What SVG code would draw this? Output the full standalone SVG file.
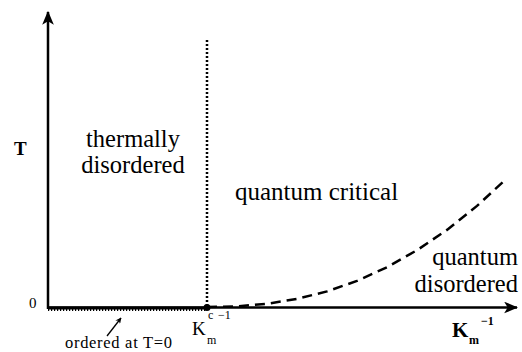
<svg xmlns="http://www.w3.org/2000/svg" width="522" height="352" viewBox="0 0 522 352">
<style>
text{font-family:'Liberation Serif','Times New Roman',Times,'Nimbus Roman','Nimbus Roman No9 L',FreeSerif,'Noto Serif','DejaVu Serif',Georgia,serif;fill:#000}
.b{font-weight:bold}
.ax{stroke:#000;stroke-width:2.5;fill:none}
</style>
<defs>
<marker id="ah" viewBox="0 0 10 10" refX="9" refY="5" markerWidth="6" markerHeight="6" markerUnits="userSpaceOnUse" orient="auto"><path d="M0,0 L10,5 L0,10 L3,5 Z" fill="#000"/></marker>
<marker id="big" viewBox="0 0 12 10" refX="11" refY="5" markerWidth="14" markerHeight="12" markerUnits="userSpaceOnUse" orient="auto"><path d="M0,0 L12,5 L0,10 L3,5 Z" fill="#000"/></marker>
</defs>
<rect width="522" height="352" fill="#fff"/>
<g id="connectors">
<line id="y-axis" class="ax" x1="48" y1="309" x2="48" y2="12" marker-end="url(#big)"/>
<line id="x-axis" class="ax" x1="47" y1="307.5" x2="517" y2="307.5" marker-end="url(#big)"/>
<line id="hatch-bar" x1="48" y1="308" x2="207" y2="308" stroke="#000" stroke-width="3"/>
<line id="hatch-ticks" x1="48" y1="310" x2="207" y2="310" stroke="#000" stroke-width="2" stroke-dasharray="1.2 1.8"/>
<line id="critical-line" x1="207" y1="40" x2="207" y2="307" stroke="#000" stroke-width="2.5" stroke-dasharray="2 2"/>
<polyline id="crossover" fill="none" stroke="#000" stroke-width="2.5" stroke-dasharray="10 6" points="207,307 237,306.4 267,303.8 297,298.9 327,291.4 357,280.9 387,267.2 417,250.2 447,229.9 477,205.9 503,182"/>
<line id="pointer" x1="107" y1="336" x2="121" y2="318" stroke="#000" stroke-width="1.3" marker-end="url(#ah)"/>
<circle id="qcp" cx="207" cy="307.5" r="3.5" fill="#000"/>
</g>
<g id="label-T"><text class="b" x="14" y="155" font-size="19">T</text></g>
<g id="label-0"><text x="29" y="308" font-size="15">0</text></g>
<g id="region-thermal">
<text x="133" y="147" font-size="24.5" text-anchor="middle">thermally</text>
<text x="133" y="173" font-size="24.5" text-anchor="middle">disordered</text>
</g>
<g id="region-critical"><text x="235" y="200" font-size="25">quantum critical</text></g>
<g id="region-disordered">
<text x="518" y="265" font-size="24.5" text-anchor="end">quantum</text>
<text x="518" y="292" font-size="24.5" text-anchor="end">disordered</text>
</g>
<g id="label-ordered"><text x="65" y="348" font-size="16.5" textLength="107">ordered at T=0</text></g>
<g id="label-Kc">
<text x="192" y="335" font-size="19">K</text>
<text x="207" y="344" font-size="12">m</text>
<text x="208" y="319" font-size="12">c</text>
<text x="218" y="319" font-size="12">−1</text>
</g>
<g id="label-Kx">
<text class="b" x="452" y="337" font-size="21">K</text>
<text class="b" x="469" y="344" font-size="12">m</text>
<text class="b" x="481" y="325" font-size="12">−1</text>
</g>
</svg>
